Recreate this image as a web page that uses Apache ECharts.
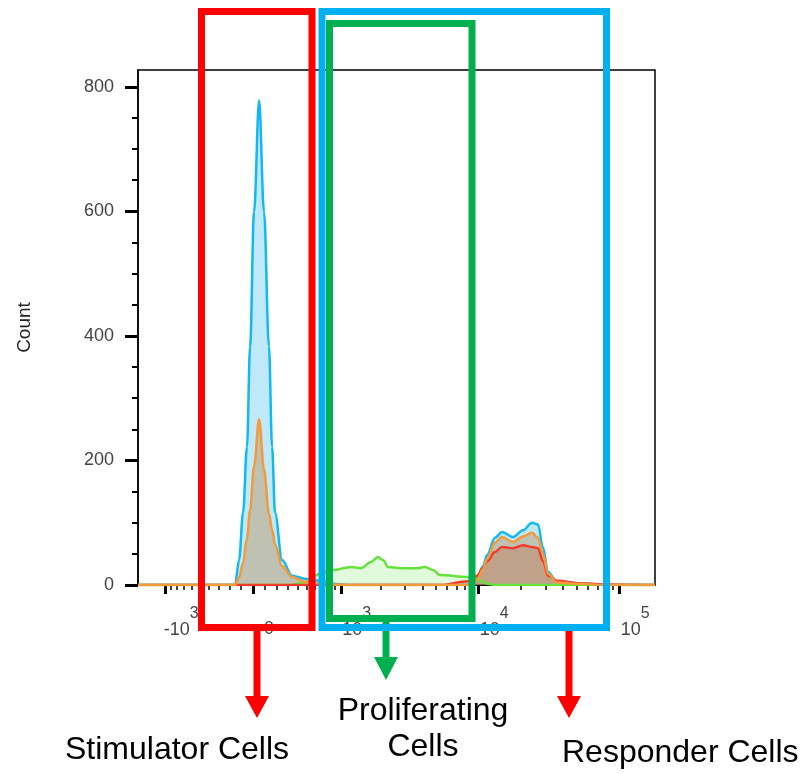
<!DOCTYPE html>
<html>
<head>
<meta charset="utf-8">
<script src="https://cdn.jsdelivr.net/npm/echarts@6/dist/echarts.min.js"></script>
<style>
  html, body { margin: 0; padding: 0; background: #fff; }
  #main { width: 804px; height: 774px; }
</style>
</head>
<body>
<div id="main"></div>
<script>
  // channel = position on the biexponential display scale (in display decades)
  var channel = [-0.816, -0.376, -0.163, -0.128, -0.099, -0.071, -0.043, -0.021, 0.007, 0.043,
                 0.078, 0.113, 0.135, 0.156, 0.206, 0.277, 0.369, 0.475, 0.567, 0.695,
                 0.766, 0.837, 0.887, 0.922, 0.957, 1.050, 1.170, 1.220, 1.277, 1.326,
                 1.525, 1.589, 1.631, 1.660, 1.716, 1.766, 1.844, 1.915, 1.979, 2.021,
                 2.057, 2.092, 2.156, 2.319, 2.482, 2.851];
  var blueCount = [0, 0, 0, 0, 40, 116, 222, 383, 599, 778,
                   599, 383, 222, 116, 40, 15, 10, 7, 2, 0,
                   0, 0, 0, 0, 0, 0, 0, 0, 0, 0,
                   0, 11, 30, 48, 76, 85, 77, 88, 100, 97,
                   60, 21, 5, 3, 0, 0];
  var greenCount = [0, 0, 0, 0, 0, 0, 0, 0, 0, 0,
                    0, 0, 0, 0, 0, 0, 5, 18, 24, 29,
                    27, 37, 45, 40, 29, 27, 27, 29, 24, 16,
                    13, 10, 5, 2, 0, 0, 0, 0, 0, 0,
                    0, 0, 0, 0, 0, 0];
  var redCount = [0, 0, 0, 0, 0, 0, 0, 0, 0, 0,
                  0, 0, 0, 0, 0, 0, 0, 0, 0, 0,
                  0, 0, 0, 0, 0, 0, 0, 0, 0, 0,
                  6, 15, 27, 38, 53, 61, 59, 64, 61, 59,
                  38, 15, 7, 3, 1, 0];
  var orangeCount = [0, 0, 0, 0, 12, 35, 75, 120, 190, 266,
                     185, 115, 89, 65, 30, 13, 5, 3, 1, 0,
                     0, 0, 0, 0, 0, 0, 0, 0, 0, 0,
                     0, 8, 25, 42, 68, 77, 69, 78, 84, 76,
                     50, 18, 4, 2, 0, 0];

  var yTicks = [0, 200, 400, 600, 800];
  var yMinorTicks = [50, 100, 150, 250, 300, 350, 450, 500, 550, 650, 700, 750];
  var xMajorValues = [-1000, 0, 1000, 10000, 100000];
  var xMajorText = ['{b|-10}{s|3}', '{b|0}', '{b|10}{s|3}', '{b|10}{s|4}', '{b|10}{s|5}'];
  var xMinorValues = [-900, -800, -700, -600, -500, -400, -300, -200, -100,
                      100, 200, 300, 400, 500, 600, 700, 800, 900,
                      2000, 3000, 4000, 5000, 6000, 7000, 8000, 9000,
                      20000, 30000, 40000, 50000, 60000, 70000, 80000, 90000];

  var S = 506;
  function toD(v) { return Math.asinh(v / S) / Math.LN10; }

  function pairs(counts) {
    var out = [];
    for (var i = 0; i < channel.length; i++) out.push([channel[i], counts[i]]);
    return out;
  }

  var font = "'Liberation Sans', Arial, sans-serif";
  var majorD = xMajorValues.map(toD);
  var minorD = xMinorValues.map(toD);

  function mkSeries(name, counts, line, fill) {
    return {
      name: name, type: 'line', data: pairs(counts),
      xAxisIndex: 0, yAxisIndex: 0,
      showSymbol: false, symbol: 'none',
      smooth: 0.35, smoothMonotone: 'x',
      lineStyle: { color: line, width: 2.5 },
      areaStyle: { color: fill, origin: 'start' },
      silent: true
    };
  }

  var myChart = echarts.init(document.getElementById('main'));
  var option = {
    animation: false,
    backgroundColor: '#fff',
    grid: { left: 138, right: 149, top: 70, bottom: 189, show: true, borderColor: '#000', borderWidth: 1.5, backgroundColor: 'transparent' },
    xAxis: [
      {
        type: 'value', position: 'bottom', min: -0.816, max: 2.851,
        axisLine: { show: true, onZero: false, lineStyle: { color: '#000', width: 1.5 } },
        splitLine: { show: false },
        axisTick: { show: true, customValues: majorD, length: 9, lineStyle: { color: '#000', width: 3 } },
        axisLabel: {
          customValues: majorD, margin: 21, padding: [0, 0, 0, 32],
          formatter: function (v) {
            for (var i = 0; i < majorD.length; i++) {
              if (Math.abs(majorD[i] - v) < 1e-6) return xMajorText[i];
            }
            return '';
          },
          rich: {
            b: { fontSize: 18, lineHeight: 47, color: '#444', fontFamily: font },
            s: { fontSize: 16, color: '#444', fontFamily: font, padding: [0, 0, 32, 0] }
          }
        }
      },
      {
        type: 'value', position: 'bottom', min: -0.816, max: 2.851,
        axisLine: { show: false, onZero: false }, splitLine: { show: false },
        axisTick: { show: true, customValues: minorD, length: 5, lineStyle: { color: '#000', width: 1.5 } },
        axisLabel: { show: false }
      }
    ],
    yAxis: [
      {
        type: 'value', position: 'left', min: 0, max: 827,
        name: 'Count', nameLocation: 'middle', nameRotate: 90, nameGap: 104,
        nameTextStyle: { fontSize: 19, color: '#222', fontFamily: font },
        axisLine: { show: true, onZero: false, lineStyle: { color: '#000', width: 1.5 } },
        splitLine: { show: false },
        axisTick: { show: true, customValues: yTicks, length: 13, lineStyle: { color: '#000', width: 3 } },
        axisLabel: { customValues: yTicks, fontSize: 18, color: '#444', fontFamily: font, margin: 24 }
      },
      {
        type: 'value', position: 'left', min: 0, max: 827,
        axisLine: { show: false, onZero: false }, splitLine: { show: false },
        axisTick: { show: true, customValues: yMinorTicks, length: 6, lineStyle: { color: '#000', width: 2 } },
        axisLabel: { show: false }
      }
    ],
    series: [
      mkSeries('blue', blueCount, '#14b8f0', 'rgba(0,165,230,0.36)'),
      mkSeries('green', greenCount, '#66e23c', 'rgba(120,230,90,0.3)'),
      mkSeries('red', redCount, '#f23a2a', 'rgba(200,80,50,0.5)'),
      mkSeries('orange', orangeCount, '#f39a3a', 'rgba(190,140,80,0.6)')
    ],
    graphic: [
      { type: 'rect', z: 100, shape: { x: 201.5, y: 11.5, width: 110.5, height: 616 }, style: { fill: null, stroke: '#ff0000', lineWidth: 7 } },
      { type: 'rect', z: 101, shape: { x: 322, y: 11.5, width: 284.5, height: 616 }, style: { fill: null, stroke: '#00b0f0', lineWidth: 7 } },
      { type: 'rect', z: 102, shape: { x: 329.5, y: 23.5, width: 142.5, height: 595 }, style: { fill: null, stroke: '#00b050', lineWidth: 7 } },
      // arrows
      { type: 'line', z: 100, shape: { x1: 257, y1: 631, x2: 257, y2: 698 }, style: { stroke: '#ff0000', lineWidth: 7 } },
      { type: 'polygon', z: 100, shape: { points: [[245, 696], [269, 696], [257, 718]] }, style: { fill: '#ff0000' } },
      { type: 'line', z: 100, shape: { x1: 386, y1: 622, x2: 386, y2: 659 }, style: { stroke: '#00b050', lineWidth: 7 } },
      { type: 'polygon', z: 100, shape: { points: [[374, 657], [398, 657], [386, 680]] }, style: { fill: '#00b050' } },
      { type: 'line', z: 100, shape: { x1: 569, y1: 631, x2: 569, y2: 698 }, style: { stroke: '#ff0000', lineWidth: 7 } },
      { type: 'polygon', z: 100, shape: { points: [[557, 696], [581, 696], [569, 718]] }, style: { fill: '#ff0000' } },
      // labels
      { type: 'text', z: 100, x: 65, y: 750, style: { text: 'Stimulator Cells', font: '32px ' + font, fill: '#000', align: 'left', verticalAlign: 'middle' } },
      { type: 'text', z: 100, x: 423, y: 711, style: { text: 'Proliferating', font: '32px ' + font, fill: '#000', align: 'center', verticalAlign: 'middle' } },
      { type: 'text', z: 100, x: 423, y: 747, style: { text: 'Cells', font: '32px ' + font, fill: '#000', align: 'center', verticalAlign: 'middle' } },
      { type: 'text', z: 100, x: 562, y: 753, style: { text: 'Responder Cells', font: '32px ' + font, fill: '#000', align: 'left', verticalAlign: 'middle' } }
    ]
  };
  myChart.setOption(option);
</script>
</body>
</html>
